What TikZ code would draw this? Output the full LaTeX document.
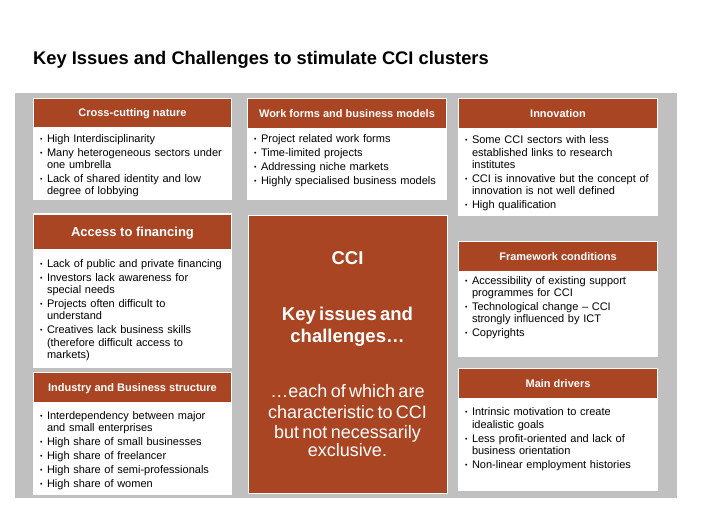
\documentclass[tikz,border=0pt]{standalone}
\usepackage{fontspec}
\setmainfont{Liberation Sans}
\usetikzlibrary{positioning}
\definecolor{brick}{RGB}{170,69,36}
\definecolor{panelgray}{RGB}{192,192,192}

% bullet list for the white boxes
\newenvironment{pts}{\begin{list}{\raisebox{1pt}{\fontsize{7}{7}\selectfont\textbullet}}{%
  \setlength{\leftmargin}{9pt}\setlength{\labelwidth}{4.5pt}\setlength{\labelsep}{4.5pt}%
  \setlength{\itemsep}{1.7pt}\setlength{\parsep}{0pt}\setlength{\topsep}{0pt}%
  \setlength{\partopsep}{0pt}\setlength{\itemindent}{0pt}}}{\end{list}}

\begin{document}
\begin{tikzpicture}[
    x=1pt, y=-1pt,
    card/.style={fill=white, inner sep=0pt, outer sep=0pt, minimum width=199pt},
    head/.style={fill=brick, text=white, inner sep=0pt, outer sep=0pt,
                 text height=7.9pt, text depth=0pt,
                 font=\fontsize{11}{13}\selectfont\bfseries, minimum width=197pt},
    body/.style={inner sep=0pt, outer sep=0pt, text width=190pt, align=left,
                 font=\fontsize{11}{12.3}\selectfont},
    core/.style={fill=brick, draw=white, line width=0.8pt, text=white, align=center,
                 text width=190pt, inner sep=0pt, minimum width=199pt, minimum height=278pt}
  ]
    \useasboundingbox (0,0) rectangle (728,504);
    \node[anchor=west, inner sep=0pt, font=\fontsize{18.3}{21}\selectfont\bfseries] (title) at (33,60)
      {Key Issues and Challenges to stimulate CCI clusters};
    \node[fill=panelgray, anchor=north west, inner sep=0pt, minimum width=662pt, minimum height=405pt] (board) at (15,93) {};

    % left column
    \node[card, minimum height=102pt] (cross) at (132.5,149) {};
    \node[head, minimum height=28pt, below=1pt of cross.north] (crosshead) {Cross-cutting nature};
    \node[body, below right=3pt and 4pt of crosshead.south west] (crossbody) {\begin{pts}
      \item High Interdisciplinarity
      \item Many heterogeneous sectors under\newline one umbrella
      \item Lack of shared identity and low\newline degree of lobbying
    \end{pts}};

    \node[card, minimum height=155pt] (fin) at (132.5,290.5) {};
    \node[head, minimum height=34pt, below=2pt of fin.north, text height=9.3pt,
          font=\fontsize{13}{15}\selectfont\bfseries] (finhead) {Access to financing};
    \node[body, below right=6pt and 4pt of finhead.south west] (finbody) {\begin{pts}
      \item Lack of public and private financing
      \item Investors lack awareness for\newline special needs
      \item Projects often difficult to\newline understand
      \item Creatives lack business skills\newline (therefore difficult access to\newline markets)
    \end{pts}};

    \node[card, minimum height=123pt] (ind) at (132.5,433.5) {};
    \node[head, minimum height=29pt, below=1pt of ind.north] (indhead) {Industry and Business structure};
    \node[body, below right=5pt and 4pt of indhead.south west] (indbody) {\begin{pts}
      \item Interdependency between major\newline and small enterprises
      \item High share of small businesses
      \item High share of freelancer
      \item High share of semi-professionals
      \item High share of women
    \end{pts}};

    % middle column
    \node[card, minimum width=200pt, minimum height=102pt] (work) at (347,149) {};
    \node[head, minimum width=198pt, minimum height=29pt, below=1pt of work.north] (workhead) {Work forms and business models};
    \node[body, below right=2.5pt and 4pt of workhead.south west] (workbody) {\begin{pts}
      \item Project related work forms
      \item Time-limited projects
      \item Addressing niche markets
      \item Highly specialised business models
    \end{pts}};

    \node[core] (cci) at (347.5,354) {%
      \fontsize{18.5}{22}\selectfont\bfseries CCI\\[34.7pt]
      Key issues and\\ challenges…\\[34.2pt]
      \mdseries\fontsize{18}{20.5}\selectfont …each of which are\\ characteristic to CCI\\
      but not necessarily\\ exclusive.};

    % right column
    \node[card, minimum width=200pt, minimum height=118pt] (inno) at (558,157) {};
    \node[head, minimum width=198pt, minimum height=29pt, below=1pt of inno.north] (innohead) {Innovation};
    \node[body, below right=3.5pt and 4pt of innohead.south west] (innobody) {\begin{pts}
      \item Some CCI sectors with less\newline established links to research\newline institutes
      \item CCI is innovative but the concept of\newline innovation is not well defined
      \item High qualification
    \end{pts}};

    \node[card, minimum width=200pt, minimum height=116pt] (frame) at (558,299) {};
    \node[head, minimum width=198pt, minimum height=29pt, below=1pt of frame.north] (framehead) {Framework conditions};
    \node[body, below right=1pt and 4pt of framehead.south west] (framebody) {\begin{pts}
      \item Accessibility of existing support\newline programmes for CCI
      \item Technological change – CCI\newline strongly influenced by ICT
      \item Copyrights
    \end{pts}};

    \node[card, minimum width=200pt, minimum height=123pt] (drive) at (558,429.5) {};
    \node[head, minimum width=198pt, minimum height=29pt, below=1pt of drive.north] (drivehead) {Main drivers};
    \node[body, below right=5.5pt and 4pt of drivehead.south west] (drivebody) {\begin{pts}
      \item Intrinsic motivation to create\newline idealistic goals
      \item Less profit-oriented and lack of\newline business orientation
      \item Non-linear employment histories
    \end{pts}};
  \end{tikzpicture}
\end{document}
